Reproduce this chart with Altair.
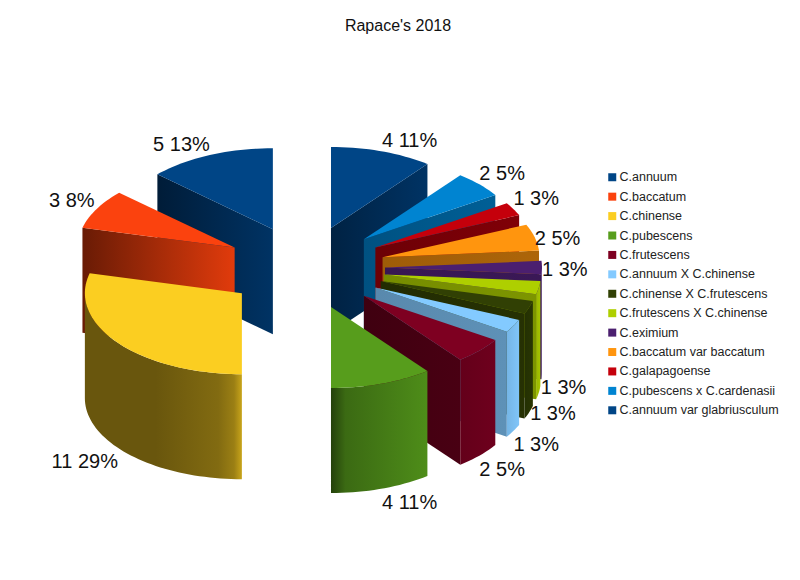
import math
import altair as alt
import pandas as pd

# ---- values (legend order) ----
NAMES = ["C.annuum", "C.baccatum", "C.chinense", "C.pubescens", "C.frutescens",
         "C.annuum X C.chinense", "C.chinense X C.frutescens", "C.frutescens X C.chinense",
         "C.eximium", "C.baccatum var baccatum", "C.galapagoense",
         "C.pubescens x C.cardenasii", "C.annuum var glabriusculum"]
COUNTS = [4, 3, 11, 4, 2, 1, 1, 1, 1, 2, 1, 2, 5]
PCTS = [11, 8, 29, 11, 5, 3, 3, 3, 3, 5, 3, 5, 13]
COLORS = ["#004586", "#fb420e", "#fbce21", "#579d1c", "#7e0021", "#83caff", "#314004",
          "#aecf00", "#4b1f6f", "#ff950e", "#c5000b", "#0084d1", "#004586"]
# order of the slices clockwise from twelve o'clock
CLOCKWISE = [0, 11, 10, 9, 8, 7, 6, 5, 4, 3, 2, 1, 12]

# ---- style: wall shading (brightness stops, left to right) ----
CUT_SHADE = {0: [.5, .75], 11: [.62, .72], 10: [.55, .65], 9: [.62, .68], 8: [.75, .78],
             7: [.68, .72], 6: [.7, .78], 5: [.68, .72], 4: [.5, .58], 12: [.42, .75],
             1: [.42, .9]}
ARC_SHADE = {3: [(0, .42), (.15, .68), (1, .9)],
             2: [(0, .42), (.45, .42), (.85, .52), (.95, .62), (1, .8)],
             4: [(0, .8), (1, .88)], 5: [(0, .9), (1, .98)], 6: [(0, .75), (1, .85)],
             7: [(0, .88), (1, .95)]}
# small label shifts in pixels, where the rim rule is not enough
LABEL_NUDGE_X = {1: -2, 6: 1, 7: 2}
LABEL_NUDGE_Y = {1: -2}

EXPLODE_X, EXPLODE_Y = 80 / 157, 41.8 / 81   # explosion, in radii
DEPTH = 105 / 81                             # thickness, in radii of the tilted axis
PX_X, PX_Y = 157, 81                         # pixels per radius
CX, CY = 305, 267.5                          # pie centre in the page
PLOT_W, PLOT_H, TOP = 784, 524, 40

x_scale = alt.Scale(domain=[(8 - CX) / PX_X, (8 + PLOT_W - CX) / PX_X], nice=False, zero=False)
y_scale = alt.Scale(domain=[(CY - (8 + TOP + PLOT_H)) / PX_Y, (CY - (8 + TOP)) / PX_Y], nice=False, zero=False)


def shade(col, f):
    r, g, b = int(col[1:3], 16), int(col[3:5], 16), int(col[5:7], 16)
    return "#%02x%02x%02x" % (int(r * f), int(g * f), int(b * f))


def polygon(points, fill):
    df = pd.DataFrame({"x": [float(p[0]) for p in points], "y": [float(p[1]) for p in points],
                       "i": list(range(len(points)))})
    return alt.Chart(df).mark_line(fill=fill, strokeOpacity=0, strokeWidth=0, clip=True).encode(
        x=alt.X("x:Q", scale=x_scale, axis=None),
        y=alt.Y("y:Q", scale=y_scale, axis=None),
        order=alt.Order("i:Q"),
    )


def gradient(col, stops):
    return {"gradient": "linear", "x1": 0, "y1": 0, "x2": 1, "y2": 0,
            "stops": [{"offset": o, "color": shade(col, f)} for o, f in stops]}


total = sum(COUNTS)
slices, cum = [], 0
for idx in CLOCKWISE:
    a0 = cum / total * 360
    cum += COUNTS[idx]
    a1 = cum / total * 360
    mid = math.radians((a0 + a1) / 2)
    slices.append(dict(idx=idx, a0=a0, a1=a1, mid=mid,
                       ox=EXPLODE_X * math.sin(mid), oy=EXPLODE_Y * math.cos(mid)))


def rim(s, a):
    r = math.radians(a)
    return s["ox"] + math.sin(r), s["oy"] + math.cos(r)


def arc_pts(s, a0, a1):
    n = max(2, int((a1 - a0) / 2) + 1)
    return [rim(s, a0 + (a1 - a0) * k / n) for k in range(n + 1)]


def down(pts):
    return [(x, y - DEPTH) for x, y in pts]


layers = []
for s in sorted(slices, key=lambda d: -math.cos(d["mid"])):
    i, col = s["idx"], COLORS[s["idx"]]
    apex = (s["ox"], s["oy"])
    cut = CUT_SHADE.get(i, [.7, .7])
    cut_stops = [(0, cut[0]), (1, cut[1])]
    faces = []
    if math.sin(math.radians(s["a0"])) < -1e-9:      # start cut faces the viewer
        top = [rim(s, s["a0"]), apex]
        faces.append(top + down(top)[::-1])
    if -math.sin(math.radians(s["a1"])) < -1e-9:     # end cut faces the viewer
        top = [apex, rim(s, s["a1"])]
        faces.append(top + down(top)[::-1])
    for f in faces:
        layers.append(polygon(f + f[:1], gradient(col, cut_stops)))
    lo, hi = max(s["a0"], 90), min(s["a1"], 270)
    if hi > lo:                                       # outer wall
        top = arc_pts(s, lo, hi)
        wall = top + down(top)[::-1]
        layers.append(polygon(wall + wall[:1],
                              gradient(col, ARC_SHADE.get(i, [(0, .85), (1, .85)]))))
    face = [apex] + arc_pts(s, s["a0"], s["a1"])
    layers.append(polygon(face + face[:1], col))

# ---- percentage labels, anchored on each slice's rim ----
rows = []
for s in slices:
    deg = math.degrees(s["mid"])
    x = s["ox"] + math.sin(s["mid"]) + LABEL_NUDGE_X.get(s["idx"], 0) / PX_X
    y = s["oy"] + math.cos(s["mid"])
    if math.cos(s["mid"]) < 0:
        y -= DEPTH if deg > 95 else 0
    if deg < 70 or deg > 270:
        dy = -10
    elif deg < 95:
        dy = 2
    elif deg < 100:
        dy = -5
    elif deg < 115:
        dy = 2
    else:
        dy = 14
    dy += LABEL_NUDGE_Y.get(s["idx"], 0) * -1
    rows.append({"x": x, "y": y - dy / PX_Y, "side": "left" if math.sin(s["mid"]) > 0 else "right",
                 "label": f"{COUNTS[s['idx']]} {PCTS[s['idx']]}%"})
labels = pd.DataFrame(rows)
for side in ["left", "right"]:
    layers.append(alt.Chart(labels[labels.side == side]).mark_text(
        align=side, baseline="middle", font="Liberation Sans", fontSize=20, color="#111111").encode(
        x=alt.X("x:Q", scale=x_scale, axis=None),
        y=alt.Y("y:Q", scale=y_scale, axis=None),
        text="label:N"))

# ---- legend ----
legend_df = pd.DataFrame({"name": NAMES, "x": [0.0] * len(NAMES), "y": [0.0] * len(NAMES)})
layers.append(alt.Chart(legend_df).mark_square(opacity=0).encode(
    x=alt.X("x:Q", scale=x_scale, axis=None),
    y=alt.Y("y:Q", scale=y_scale, axis=None),
    color=alt.Color("name:N", scale=alt.Scale(domain=NAMES, range=COLORS),
                    legend=alt.Legend(title=None, orient="none", legendX=598, legendY=123,
                                      symbolType="square", symbolSize=64, symbolOpacity=1,
                                      symbolStrokeWidth=0, labelFont="Liberation Sans",
                                      labelFontSize=12.5, labelColor="#222222", labelLimit=300,
                                      rowPadding=6.42, labelOffset=1, padding=0))))

chart = alt.layer(*layers).properties(
    width=PLOT_W, height=PLOT_H,
    title=alt.TitleParams("Rapace's 2018", font="Liberation Sans", fontSize=16, fontWeight="normal",
                          color="#111111", anchor="middle", offset=14, dx=-2),
    padding={"left": 0, "right": 0, "top": TOP, "bottom": 0},
    autosize=alt.AutoSizeParams(type="none"),
).configure_view(stroke=None)

chart.save("out.html", embed_options={"renderer": "svg", "actions": False})
